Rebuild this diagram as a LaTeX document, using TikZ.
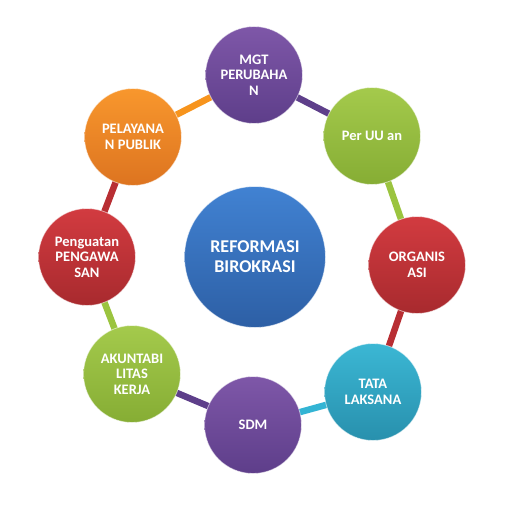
\documentclass[tikz,border=0pt]{standalone}
\usepackage{fontspec}
\setmainfont{Carlito}
\usetikzlibrary{backgrounds}
\definecolor{purT}{HTML}{7E57A8}\definecolor{purB}{HTML}{5E3E8A}
\definecolor{grnT}{HTML}{A4CA4C}\definecolor{grnB}{HTML}{86AD34}
\definecolor{redT}{HTML}{D23B40}\definecolor{redB}{HTML}{A82A2E}
\definecolor{cyaT}{HTML}{3BB7D4}\definecolor{cyaB}{HTML}{2890AD}
\definecolor{orgT}{HTML}{F8972D}\definecolor{orgB}{HTML}{DD7420}
\definecolor{bluT}{HTML}{4182D2}\definecolor{bluB}{HTML}{2D5FA5}
\definecolor{cPur}{HTML}{5E3F8A}\definecolor{cGrn}{HTML}{9BC43F}
\definecolor{cRed}{HTML}{B82E33}\definecolor{cCya}{HTML}{33B4D4}
\definecolor{cOrg}{HTML}{F7941D}
\begin{document}
\begin{tikzpicture}[x=1pt,y=-1pt,
  ball/.style={circle, minimum size=97pt, inner sep=0pt, text=white,
    font=\bfseries\fontsize{14.5}{15.5}\selectfont, align=center,
    draw=white, draw opacity=0.55, line width=0.8pt},
  purple ball/.style={ball, top color=purT, bottom color=purB},
  green ball/.style={ball, top color=grnT, bottom color=grnB},
  red ball/.style={ball, top color=redT, bottom color=redB},
  cyan ball/.style={ball, top color=cyaT, bottom color=cyaB},
  orange ball/.style={ball, top color=orgT, bottom color=orgB},
  hub/.style={ball, minimum size=141pt, top color=bluT, bottom color=bluB,
    font=\bfseries\fontsize{18}{20}\selectfont},
  link/.style={line width=6.5pt}]
\useasboundingbox (0,0) rectangle (513,513);
\node[hub] (hub) at (255,257) {REFORMASI\\BIROKRASI};
\node[purple ball] (mgt) at (254,75) {MGT\\PERUBAHA\\N};
\node[green ball] (uu) at (372,136) {Per UU an};
\node[red ball] (org) at (417,265) {ORGANIS\\ASI};
\node[cyan ball] (tata) at (373,392) {TATA\\LAKSANA};
\node[purple ball] (sdm) at (253,425) {SDM};
\node[green ball] (akun) at (132,374) {AKUNTABI\\LITAS\\KERJA};
\node[red ball] (peng) at (87,257) {Penguatan\\PENGAWA\\SAN};
\node[orange ball] (pel) at (133,137) {PELAYANA\\N PUBLIK};
\begin{scope}[on background layer]
\draw[link, cPur] (mgt.center) -- (uu.center);
\draw[link, cGrn] (uu.center) -- (org.center);
\draw[link, cRed] (org.center) -- (tata.center);
\draw[link, cCya] (tata.center) -- (sdm.center);
\draw[link, cPur] (sdm.center) -- (akun.center);
\draw[link, cGrn] (akun.center) -- (peng.center);
\draw[link, cRed] (peng.center) -- (pel.center);
\draw[link, cOrg] (pel.center) -- (mgt.center);
\end{scope}
\end{tikzpicture}
\end{document}
